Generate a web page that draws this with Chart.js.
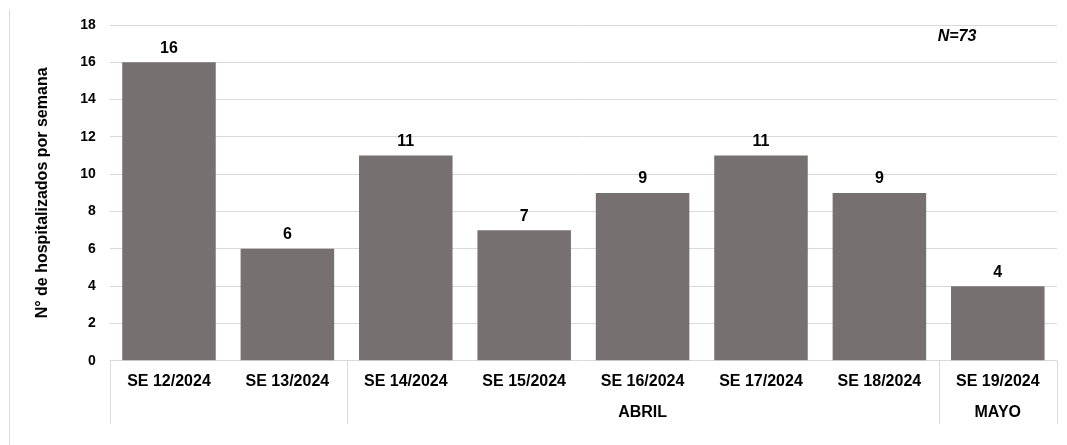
<!DOCTYPE html>
<html>
<head>
<meta charset="utf-8">
<script src="https://cdn.jsdelivr.net/npm/chart.js@4/dist/chart.umd.min.js"></script>
<style>
  html, body { margin: 0; padding: 0; background: #fff; }
  #wrap { position: relative; width: 1067px; height: 445px; }
</style>
</head>
<body>
<div id="wrap"><canvas id="chart" width="1067" height="445"></canvas></div>
<script>
// weeks and hospitalizations per week
const weeks = ['SE 12/2024', 'SE 13/2024', 'SE 14/2024', 'SE 15/2024', 'SE 16/2024', 'SE 17/2024', 'SE 18/2024', 'SE 19/2024'];
const months = ['', '', 'ABRIL', 'ABRIL', 'ABRIL', 'ABRIL', 'ABRIL', 'MAYO'];
const hospitalized = [16, 6, 11, 7, 9, 11, 9, 4];
const totalLabel = 'N=73';

const FONT = 'Liberation Sans, Arial, sans-serif';
const BAR_COLOR = '#767170';
const GRID_COLOR = '#d9d9d9';

// value labels above bars + month row + frame
const annotatePlugin = {
  id: 'annotate',
  afterDatasetsDraw(chart) {
    const ctx = chart.ctx;
    const meta = chart.getDatasetMeta(0);
    ctx.save();
    ctx.fillStyle = '#000';
    ctx.font = 'bold 16px ' + FONT;
    ctx.textAlign = 'center';
    ctx.textBaseline = 'bottom';
    meta.data.forEach((bar, i) => {
      ctx.fillText(String(hospitalized[i]), bar.x, bar.y - 6);
    });

    const x = chart.scales.x;
    const area = chart.chartArea;
    const step = x.getPixelForValue(1) - x.getPixelForValue(0);
    const lineTop = area.bottom;
    const lineBottom = 424;

    // group consecutive months
    const groups = [];
    months.forEach((m, i) => {
      const last = groups[groups.length - 1];
      if (last && last.name === m) last.end = i;
      else groups.push({ name: m, start: i, end: i });
    });

    ctx.strokeStyle = GRID_COLOR;
    ctx.lineWidth = 1;
    const edges = new Set();
    groups.forEach(g => {
      edges.add(Math.round(x.getPixelForValue(g.start) - step / 2) + 0.5);
      edges.add(Math.round(x.getPixelForValue(g.end) + step / 2) + 0.5);
    });
    edges.forEach(px => {
      ctx.beginPath();
      ctx.moveTo(px, lineTop);
      ctx.lineTo(px, lineBottom);
      ctx.stroke();
    });

    ctx.font = 'bold 16px ' + FONT;
    ctx.textBaseline = 'middle';
    groups.forEach(g => {
      if (!g.name) return;
      const cx = (x.getPixelForValue(g.start) + x.getPixelForValue(g.end)) / 2;
      ctx.fillText(g.name, cx, 413);
    });

    // N label
    ctx.font = 'italic bold 16px ' + FONT;
    ctx.fillText(totalLabel, 957, 37);

    // outer frame left edge
    ctx.beginPath();
    ctx.moveTo(9.5, 10);
    ctx.lineTo(9.5, 445);
    ctx.stroke();
    ctx.restore();
  }
};

new Chart(document.getElementById('chart'), {
  type: 'bar',
  data: {
    labels: weeks,
    datasets: [{
      data: hospitalized,
      backgroundColor: BAR_COLOR,
      borderWidth: 0,
      categoryPercentage: 0.79,
      barPercentage: 1.0,
    }],
  },
  options: {
    responsive: false,
    animation: false,
    layout: { padding: { top: 25, right: 10, bottom: 43, left: 29 } },
    plugins: {
      legend: { display: false },
      tooltip: { enabled: false },
    },
    scales: {
      x: {
        grid: { display: false, drawTicks: false },
        border: { display: false },
        ticks: {
          color: '#000',
          padding: 11,
          maxRotation: 0,
          autoSkip: false,
          font: { family: FONT, size: 16, weight: 'bold' },
        },
      },
      y: {
        min: 0,
        max: 18,
        ticks: {
          stepSize: 2,
          color: '#000',
          padding: 14,
          font: { family: FONT, size: 14, weight: 'bold' },
        },
        grid: { color: GRID_COLOR, drawTicks: false, lineWidth: 1 },
        border: { display: false },
        title: {
          display: true,
          text: 'N° de hospitalizados por semana',
          color: '#000',
          padding: { bottom: 14 },
          font: { family: FONT, size: 16, weight: 'bold' },
        },
      },
    },
  },
  plugins: [annotatePlugin],
});
</script>
</body>
</html>
